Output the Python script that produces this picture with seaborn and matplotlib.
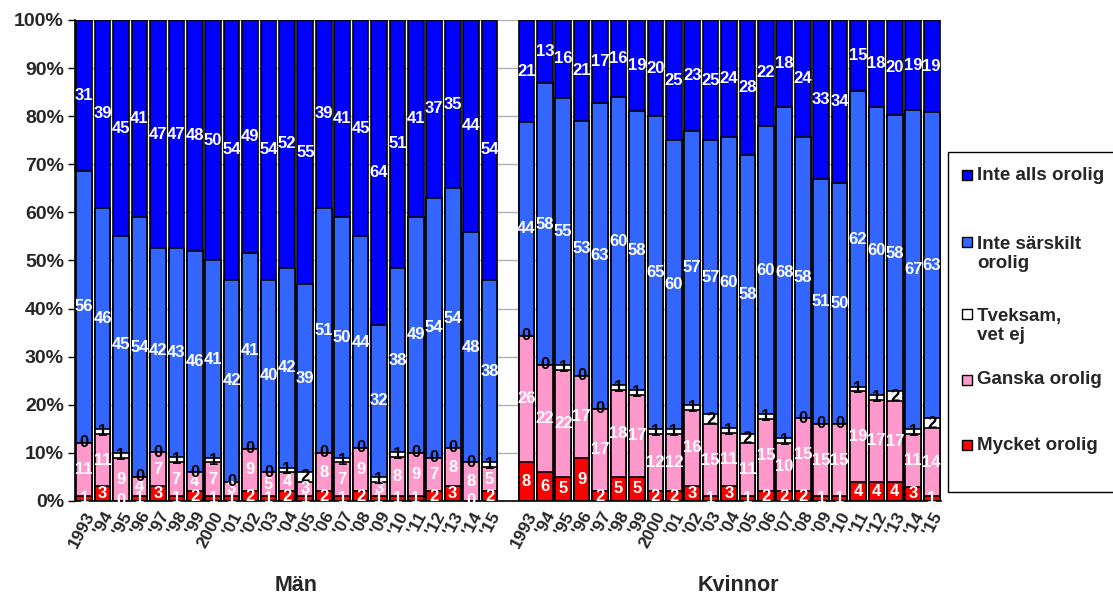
import numpy as np
import pandas as pd
import matplotlib
matplotlib.use('Agg')
import matplotlib.pyplot as plt
import seaborn as sns
from matplotlib.patches import Rectangle

# ---- data (percent) ----
year_labels = ['1993', "'94", "'95", "'96", "'97", "'98", "'99", '2000', "'01", "'02", "'03", "'04",
               "'05", "'06", "'07", "'08", "'09", "'10", "'11", "'12", "'13", "'14", "'15"]

man_mycket = [1, 3, 0, 1, 3, 1, 2, 1, 1, 2, 1, 2, 1, 2, 1, 2, 1, 1, 1, 2, 3, 0, 2]
man_ganska = [11, 11, 9, 4, 7, 7, 4, 7, 3, 9, 5, 4, 3, 8, 7, 9, 3, 8, 9, 7, 8, 8, 5]
man_tveksam = [0, 1, 1, 0, 0, 1, 0, 1, 0, 0, 0, 1, 2, 0, 1, 0, 1, 1, 0, 0, 0, 0, 1]
man_sarskilt = [56, 46, 45, 54, 42, 43, 46, 41, 42, 41, 40, 42, 39, 51, 50, 44, 32, 38, 49, 54, 54, 48, 38]
man_alls = [31, 39, 45, 41, 47, 47, 48, 50, 54, 49, 54, 52, 55, 39, 41, 45, 64, 51, 41, 37, 35, 44, 54]

kv_mycket = [8, 6, 5, 9, 2, 5, 5, 2, 2, 3, 1, 3, 1, 2, 2, 2, 1, 1, 4, 4, 4, 3, 1]
kv_ganska = [26, 22, 22, 17, 17, 18, 17, 12, 12, 16, 15, 11, 11, 15, 10, 15, 15, 15, 19, 17, 17, 11, 14]
kv_tveksam = [0, 0, 1, 0, 0, 1, 1, 1, 1, 1, 2, 1, 2, 1, 1, 0, 0, 0, 1, 1, 2, 1, 2]
kv_sarskilt = [44, 58, 55, 53, 63, 60, 58, 65, 60, 57, 57, 60, 58, 60, 68, 58, 51, 50, 62, 60, 58, 67, 63]
kv_alls = [21, 13, 16, 21, 17, 16, 19, 20, 25, 23, 25, 24, 28, 22, 18, 24, 33, 34, 15, 18, 20, 19, 19]

layers = ['Mycket orolig', 'Ganska orolig', 'Tveksam,\nvet ej', 'Inte särskilt\norolig', 'Inte alls orolig']
colors = ['#FF0000', '#FF99CC', '#FFFFFF', '#3366FF', '#0000FF']
label_colors = ['white', 'white', 'black', 'white', 'white']
groups = ['Män', 'Kvinnor']

# ---- build table: Män at 0..22, gap, Kvinnor at 24..46 ----
n = len(year_labels)
vals = np.array([man_mycket + kv_mycket, man_ganska + kv_ganska, man_tveksam + kv_tveksam,
                 man_sarskilt + kv_sarskilt, man_alls + kv_alls], dtype=float)
pos = np.r_[np.arange(n), np.arange(n) + n + 1]
pct = vals / vals.sum(axis=0) * 100
top = pct.cumsum(axis=0)
bottom = top - pct

sns.set_style('white')
plt.rcParams['font.family'] = ['Liberation Sans', 'DejaVu Sans']
plt.rcParams['font.weight'] = 'bold'

W, H = 1113, 597
fig = plt.figure(figsize=(W / 100, H / 100), dpi=100)
ax = fig.add_axes([0.0674, 0.161, 0.778, 0.8055])
ax.set_axisbelow(True)
ax.yaxis.grid(True, color='#b0b0b0', lw=1)

# stacked bars: draw cumulative tops from tallest to smallest
for i in range(len(layers) - 1, -1, -1):
    d = pd.DataFrame({'pos': pos, 'top': top[i]})
    sns.barplot(data=d, x='pos', y='top', native_scale=True, color=colors[i], saturation=1,
                edgecolor='black', linewidth=1.2, width=0.85, errorbar=None, ax=ax)

# value labels
for i in range(len(layers)):
    for j in range(len(pos)):
        ax.text(pos[j], bottom[i, j] + pct[i, j] / 2, f'{int(vals[i, j])}', ha='center', va='center',
                color=label_colors[i], fontsize=12, fontweight='bold')

ax.set_xlim(-0.5, 2 * n + 0.5)
ax.set_ylim(0, 100)
ax.set_yticks(np.arange(0, 101, 10))
ax.set_yticklabels([f'{v}%' for v in range(0, 101, 10)], fontsize=14, fontweight='bold')
ax.set_xticks(pos)
ax.set_xticklabels(year_labels * 2, rotation=62, ha='right', va='top', rotation_mode='anchor',
                   fontsize=12.5, fontweight='bold')
ax.set_xticks(np.r_[np.arange(n + 1) - 0.5, np.arange(n + 1) + n + 0.5], minor=True)
ax.tick_params(axis='x', which='major', length=0, pad=6)
ax.tick_params(axis='x', which='minor', length=5, color='black', width=1)
ax.tick_params(axis='y', length=5, color='black', width=1, left=True, pad=3)
ax.set_xlabel('')
ax.set_ylabel('')
for s in ['top', 'right']:
    ax.spines[s].set_visible(False)
for s in ['left', 'bottom']:
    ax.spines[s].set_color('black')
    ax.spines[s].set_linewidth(1.2)

# group titles
for k, g in enumerate(groups):
    xc = (n - 1) / 2 + k * (n + 1) + 0.5
    ax.text(xc, -0.175, g, transform=ax.get_xaxis_transform(), ha='center', va='center',
            fontsize=15.5, fontweight='bold')

# legend, drawn by hand so the uneven spacing of the original is kept
fig.patches.append(Rectangle((948 / W, 1 - 492 / H), 200 / W, 340 / H, transform=fig.transFigure,
                             facecolor='white', edgecolor='black', lw=1))
leg_y = [175, 254, 326, 380, 445]
leg_box_y = [175, 242, 314, 380, 445]
for k, i in enumerate(range(len(layers) - 1, -1, -1)):
    fig.patches.append(Rectangle((962 / W, 1 - (leg_box_y[k] + 5) / H), 10 / W, 10 / H,
                                 transform=fig.transFigure, facecolor=colors[i], edgecolor='black', lw=1))
    fig.text(977 / W, 1 - leg_y[k] / H, layers[i], ha='left', va='center', fontsize=13.5,
             fontweight='bold', linespacing=1.1)

fig.savefig('out.png', dpi=100)
